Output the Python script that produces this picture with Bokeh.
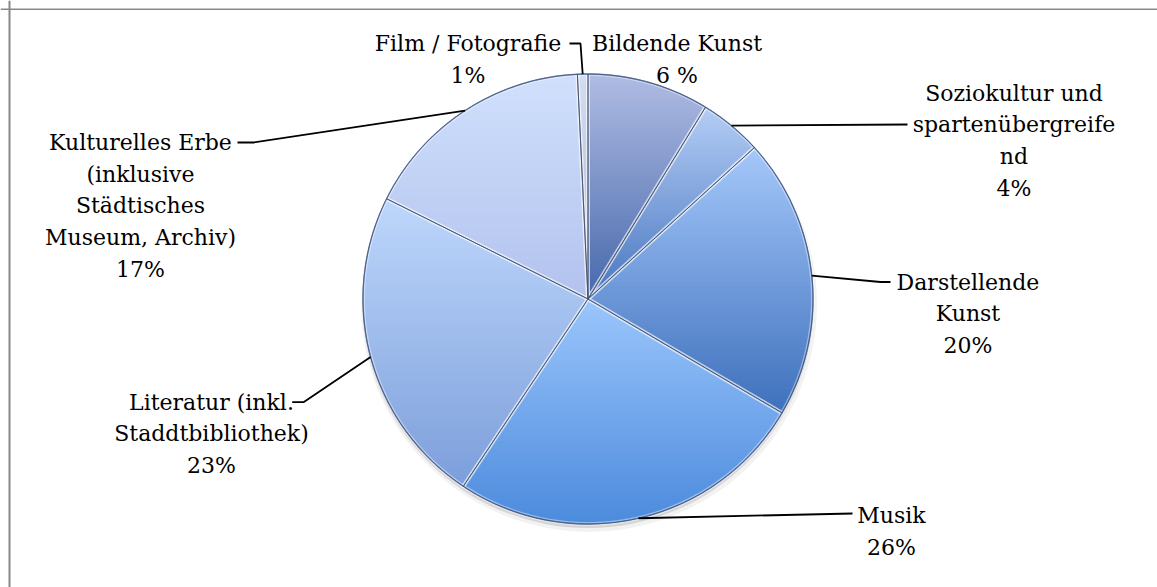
import numpy as np
from bokeh.plotting import figure
from bokeh.models import Range1d, Span
from bokeh.core.properties import value
from bokeh.embed import file_html
from bokeh.resources import INLINE

# ---------------- data ----------------
categories = [
    "Bildende Kunst",
    "Soziokultur und spartenübergreifend",
    "Darstellende Kunst",
    "Musik",
    "Literatur (inkl. Staddtbibliothek)",
    "Kulturelles Erbe (inklusive Städtisches Museum, Archiv)",
    "Film / Fotografie",
]
values = [8.75, 4.5, 20.2, 25.9, 23.0, 16.9, 0.75]
label_lines = [
    ["Bildende Kunst", "6 %"],
    ["Soziokultur und", "spartenübergreife", "nd", "4%"],
    ["Darstellende", "Kunst", "20%"],
    ["Musik", "26%"],
    ["Literatur (inkl.", "Staddtbibliothek)", "23%"],
    ["Kulturelles Erbe", "(inklusive", "Städtisches", "Museum, Archiv)", "17%"],
    ["Film / Fotografie", "1%"],
]

# ---------------- style / layout ----------------
W, H = 1157, 587
def Y(sy):
    return H - sy

cx, cy, R = 587.5, Y(298.5), 225.0
top_colors = [(176, 188, 228), (180, 205, 245), (165, 200, 250), (155, 198, 252),
              (190, 215, 252), (208, 224, 252), (212, 222, 242)]
bot_colors = [(70, 104, 170), (72, 118, 192), (62, 112, 188), (76, 138, 220),
              (124, 158, 218), (178, 194, 238), (168, 180, 216)]
# label anchor: (center x, first baseline screen y)
label_pos = [(676.5, 43), (1013.5, 92.7), (967.5, 281.7), (891, 515),
             (211, 401.7), (140, 142), (467.5, 43)]
line_step = 31.7
# leader points after the slice edge point (screen coords)
leader_pts = [None, [(907, 124)], [(880, 281.5), (890, 281.5)], [(852, 513)],
              [(303, 401.7), (291.7, 401.7)], [(253, 142), (237, 142)],
              [(580, 43), (569, 43)]]

p = figure(width=W, height=H, x_range=Range1d(0, W), y_range=Range1d(0, H),
           output_backend="svg", toolbar_location=None, min_border=0,
           outline_line_color=None, background_fill_color="white",
           border_fill_color="white")
p.axis.visible = False
p.grid.visible = False

# frame (top + left)
p.add_layout(Span(location=9, dimension="height", line_color="#888888", line_width=2))
p.add_layout(Span(location=Y(8.7), dimension="width", line_color="#888888", line_width=1.5))

# shadow
p.circle(x=[cx + 1], y=[cy - 5], radius=R + 3, fill_color="black", fill_alpha=0.05, line_color=None)
p.circle(x=[cx], y=[cy - 3], radius=R + 1, fill_color="black", fill_alpha=0.12, line_color=None)


def clip(poly, ylo, yhi):
    def clip_edge(pts, keep, inter):
        out = []
        n = len(pts)
        for i in range(n):
            a, b = pts[i], pts[(i + 1) % n]
            ka, kb = keep(a), keep(b)
            if ka:
                out.append(a)
                if not kb:
                    out.append(inter(a, b))
            elif kb:
                out.append(inter(a, b))
        return out

    def inter_y(y0):
        def f(a, b):
            t = (y0 - a[1]) / (b[1] - a[1])
            return (a[0] + t * (b[0] - a[0]), y0)
        return f

    pts = clip_edge(poly, lambda q: q[1] >= ylo, inter_y(ylo))
    if not pts:
        return []
    pts = clip_edge(pts, lambda q: q[1] <= yhi, inter_y(yhi))
    return pts


total = sum(values)
cum = np.concatenate([[0], np.cumsum(values)]) / total * 2 * np.pi
polys = []
sx, sy_, sc = [], [], []
for i in range(len(values)):
    a0, a1 = cum[i], cum[i + 1]
    n = max(3, int((a1 - a0) / np.radians(0.5)))
    th = np.linspace(a0, a1, n)
    poly = [(cx, cy)] + [(cx + R * np.sin(t), cy + R * np.cos(t)) for t in th]
    polys.append(poly)
    ys = [q[1] for q in poly]
    ymin, ymax = min(ys), max(ys)
    N = max(2, int(np.ceil((ymax - ymin) / 4)))
    h = (ymax - ymin) / N
    for k in range(N):
        yhi = ymax - k * h
        ylo = ymax - (k + 1) * h - 0.9
        c = clip(poly, ylo, yhi)
        if len(c) < 3:
            continue
        t = (k + 0.5) / N
        col = tuple(int(round(top_colors[i][j] + t * (bot_colors[i][j] - top_colors[i][j]))) for j in range(3))
        sx.append([q[0] for q in c])
        sy_.append([q[1] for q in c])
        sc.append("#%02x%02x%02x" % col)

p.patches(sx, sy_, fill_color=sc, line_color=None)

# bevel highlight and slice borders
bx = [[q[0] for q in pl] for pl in polys]
by = [[q[1] for q in pl] for pl in polys]
p.patches(bx, by, fill_color=None, line_color="white", line_alpha=0.4, line_width=4, line_join="round")
p.patches(bx, by, fill_color=None, line_color="#3d4c6e", line_alpha=0.75, line_width=1, line_join="round")
p.circle(x=[cx], y=[cy], radius=R, fill_color=None, line_color="#3b5487", line_alpha=0.65, line_width=1.3)

# leader lines
for i in range(len(values)):
    if leader_pts[i] is None:
        continue
    mid = (cum[i] + cum[i + 1]) / 2
    ex, ey = cx + R * np.sin(mid), cy + R * np.cos(mid)
    xs = [ex] + [q[0] for q in leader_pts[i]]
    ys = [ey] + [Y(q[1]) for q in leader_pts[i]]
    p.line(xs, ys, line_color="black", line_width=1.8)

# labels
tx, ty, tt = [], [], []
for i, lines in enumerate(label_lines):
    lx, lb = label_pos[i]
    for j, s in enumerate(lines):
        tx.append(lx)
        ty.append(Y(lb + j * line_step))
        tt.append(s)
p.text(x=tx, y=ty, text=tt, text_align="center", text_baseline="alphabetic",
       text_font=value("DejaVu Serif"), text_font_size="22px", text_color="#000000")

open("out.html", "w").write(file_html(p, INLINE))
